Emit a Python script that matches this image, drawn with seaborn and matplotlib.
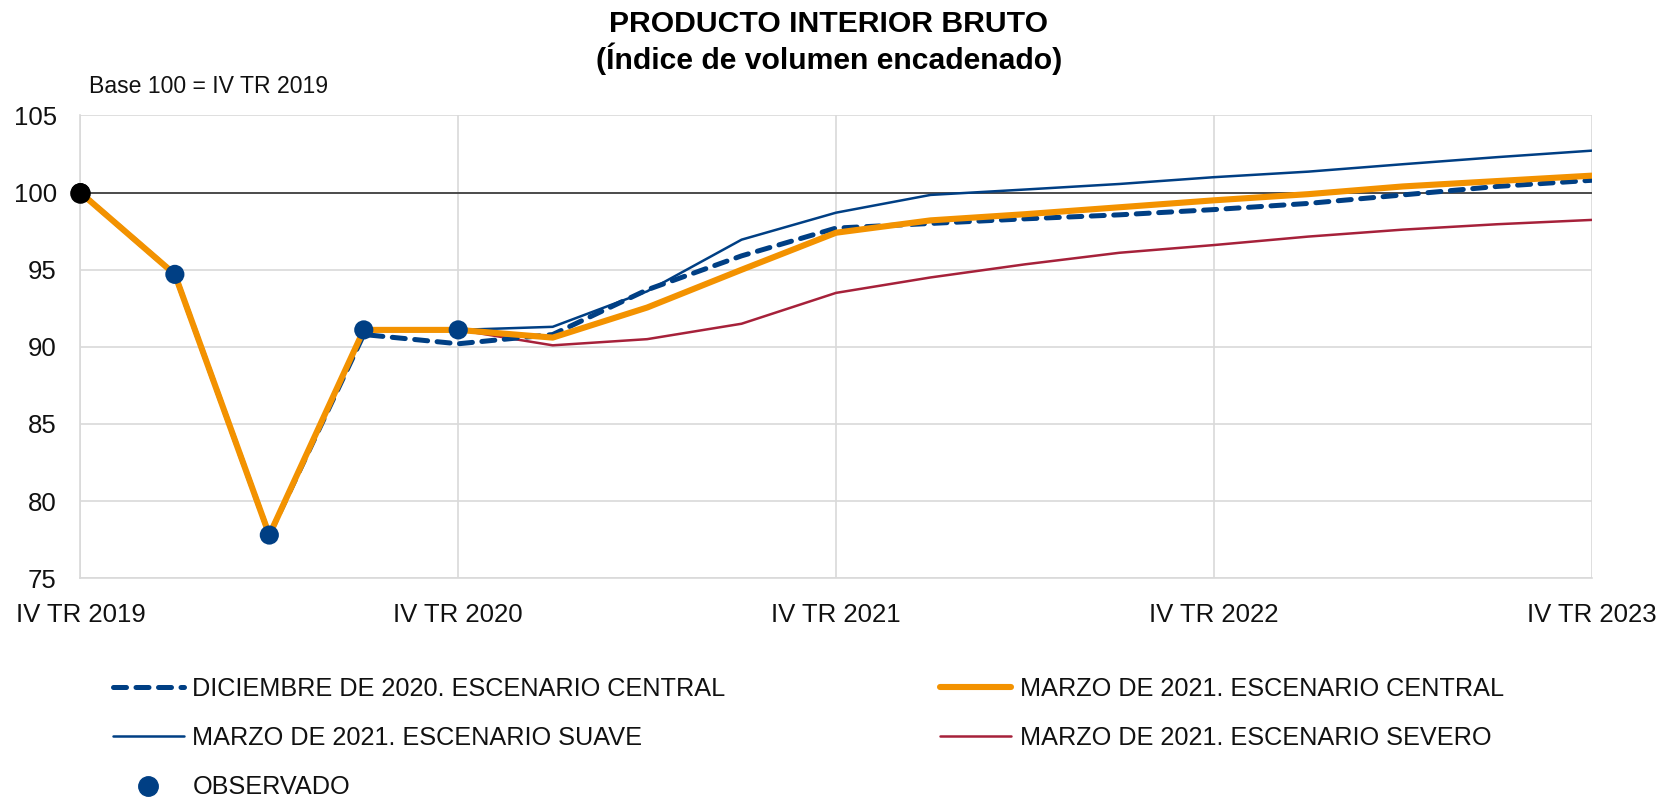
import numpy as np
import pandas as pd
import matplotlib
matplotlib.use("Agg")
import matplotlib.pyplot as plt
import seaborn as sns
from matplotlib.lines import Line2D

# ---- data ----
quarters = list(range(17))
tick_pos = [0, 4, 8, 12, 16]
tick_labels = ["IV TR 2019", "IV TR 2020", "IV TR 2021", "IV TR 2022", "IV TR 2023"]

dic2020_central = [100, 94.7, 77.8, 90.8, 90.2, 90.8, 93.7, 95.9, 97.7, 98.0,
                   98.3, 98.56, 98.9, 99.3, 99.85, 100.4, 100.8]
mar2021_central = [100, 94.7, 77.8, 91.1, 91.1, 90.6, 92.55, 95.0, 97.4, 98.2,
                   98.6, 99.05, 99.5, 99.9, 100.4, 100.75, 101.1]
scen_quarters = list(range(4, 17))
mar2021_suave = [91.1, 91.3, 93.6, 96.95, 98.7, 99.85, 100.2, 100.56, 101.0,
                 101.36, 101.84, 102.3, 102.72]
mar2021_severo = [91.1, 90.1, 90.5, 91.5, 93.5, 94.5, 95.35, 96.1, 96.6,
                  97.15, 97.6, 97.95, 98.23]
obs_quarters = [0, 1, 2, 3, 4]
observado = [100, 94.7, 77.8, 91.1, 91.1]

labels = ["DICIEMBRE DE 2020. ESCENARIO CENTRAL",
          "MARZO DE 2021. ESCENARIO SUAVE",
          "OBSERVADO",
          "MARZO DE 2021. ESCENARIO CENTRAL",
          "MARZO DE 2021. ESCENARIO SEVERO"]

BLUE = "#003F84"
ORANGE = "#F39200"
RED = "#A6213A"

sns.set_theme(style="white")
plt.rcParams["font.family"] = ["Liberation Sans", "DejaVu Sans"]

fig = plt.figure(figsize=(16.58, 8.02), dpi=100)
ax = fig.add_axes([0.0485, 0.279, 0.9115, 0.577])

# reference line at 100
ax.axhline(100, color="#333333", lw=1.2, zorder=1)

sns.lineplot(x=scen_quarters, y=mar2021_severo, ax=ax, color=RED, lw=1.8, zorder=2)
sns.lineplot(x=scen_quarters, y=mar2021_suave, ax=ax, color=BLUE, lw=1.8, zorder=2)
sns.lineplot(x=quarters, y=dic2020_central, ax=ax, color=BLUE, lw=3.6, zorder=3,
             dashes=False, linestyle=(0, (2.6, 1.9)), dash_capstyle="round")
sns.lineplot(x=quarters, y=mar2021_central, ax=ax, color=ORANGE, lw=4.4, zorder=4)

obs_colors = ["black"] + [BLUE] * (len(observado) - 1)
sns.scatterplot(x=obs_quarters, y=observado, ax=ax, color=obs_colors, s=190,
                edgecolor="none", zorder=5, clip_on=False)
ax.scatter(obs_quarters[:1], observado[:1], color="black", s=190, zorder=6, clip_on=False)

ax.set_xlim(0, 16)
ax.set_ylim(75, 105)
ax.set_yticks([75, 80, 85, 90, 95, 100, 105])
ax.set_xticks(tick_pos)
ax.set_xticklabels(tick_labels)
ax.tick_params(axis="x", labelsize=18.5, pad=18, length=0, colors="#111111")
ax.tick_params(axis="y", labelsize=18.5, pad=17, length=0, colors="#111111")
ax.grid(True, color="#D9D9D9", lw=1.2)
ax.set_axisbelow(True)
for s in ["top", "right"]:
    ax.spines[s].set_visible(False)
for s in ["left", "bottom"]:
    ax.spines[s].set_color("#D9D9D9")
    ax.spines[s].set_linewidth(1.2)
ax.set_xlabel("")
ax.set_ylabel("")

fig.text(0.5, 0.970, "PRODUCTO INTERIOR BRUTO", ha="center", va="center",
         fontsize=21.7, fontweight="bold", color="black")
fig.text(0.5, 0.927, "(Índice de volumen encadenado)", ha="center", va="center",
         fontsize=21.7, fontweight="bold", color="black")
fig.text(0.0536, 0.892, "Base 100 = IV TR 2019", ha="left", va="center",
         fontsize=16.6, color="#111111")

handles = [
    Line2D([], [], color=BLUE, lw=3.6, linestyle=(0, (2.6, 1.9)), dash_capstyle="round"),
    Line2D([], [], color=BLUE, lw=1.8),
    Line2D([], [], color=BLUE, lw=0, marker="o", markersize=14),
    Line2D([], [], color=ORANGE, lw=4.4),
    Line2D([], [], color=RED, lw=1.8),
]
leg = fig.legend(handles, labels, ncol=2, loc="upper left", bbox_to_anchor=(0.068, 0.156),
                 frameon=False, fontsize=18.2, handlelength=2.8, handletextpad=0.35,
                 columnspacing=8.5, labelspacing=1.0, borderpad=0, borderaxespad=0)
for t in leg.get_texts():
    t.set_color("#111111")

fig.savefig("out.png", dpi=100)
